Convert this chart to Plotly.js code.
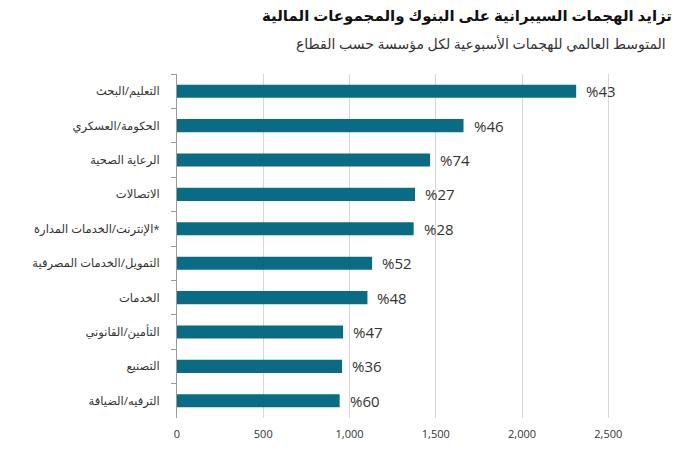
<!DOCTYPE html>
<html>
<head>
<meta charset="utf-8">
<script src="https://cdn.plot.ly/plotly-3.0.1.min.js"></script>
<style>
  body { margin: 0; background: #fff; }
  #chart { width: 700px; height: 450px; }
</style>
</head>
<body>
<div id="chart"></div>
<script>
// sectors, top to bottom
const sectors = [
    'التعليم/البحث',
    'الحكومة/العسكري',
    'الرعاية الصحية',
    'الاتصالات',
    'الإنترنت/الخدمات المدارة*',
    'التمويل/الخدمات المصرفية',
    'الخدمات',
    'التأمين/القانوني',
    'التصنيع',
    'الترفيه/الضيافة'
];
// average weekly attacks per organisation
const attacks = [2314, 1661, 1467, 1380, 1372, 1131, 1104, 963, 957, 943];
// year-on-year change labels
const changes = ['%43', '%46', '%74', '%27', '%28', '%52', '%48', '%47', '%36', '%60'];

const xTicks = [0, 500, 1000, 1500, 2000, 2500];
const xTickText = ['0', '500', '1,000', '1,500', '2,000', '2,500'];

const fontFamily = '"Open Sans", "DejaVu Sans", sans-serif';

const trace = {
    type: 'bar',
    orientation: 'h',
    x: attacks,
    y: sectors,
    marker: { color: '#0a6b85' },
    hoverinfo: 'none'
};

// percent labels just right of each bar
const labels = sectors.map((s, i) => ({
    x: attacks[i],
    y: s,
    xref: 'x',
    yref: 'y',
    text: changes[i],
    showarrow: false,
    xanchor: 'left',
    yanchor: 'middle',
    xshift: 8,
    font: { family: fontFamily, size: 15, color: '#333333' }
}));

// subtitle, right aligned under the title
labels.push({
    xref: 'paper',
    yref: 'paper',
    x: 1.017,
    y: 1.09,
    xanchor: 'right',
    yanchor: 'middle',
    text: 'المتوسط العالمي للهجمات الأسبوعية لكل مؤسسة حسب القطاع',
    showarrow: false,
    font: { family: fontFamily, size: 14, color: '#333333' }
});

const layout = {
    width: 700,
    height: 450,
    margin: { l: 177, r: 40, t: 74, b: 32 },
    paper_bgcolor: '#ffffff',
    plot_bgcolor: '#ffffff',
    showlegend: false,
    bargap: 0.62,
    title: {
        text: '<b>تزايد الهجمات السيبرانية على البنوك والمجموعات المالية</b>',
        xref: 'container',
        yref: 'container',
        x: 0.96,
        xanchor: 'right',
        y: 1 - 16 / 450,
        yanchor: 'middle',
        font: { family: fontFamily, size: 15, color: '#111111' }
    },
    xaxis: {
        range: [0, 2800],
        tickvals: xTicks,
        ticktext: xTickText,
        showgrid: true,
        gridcolor: '#d6d6d6',
        gridwidth: 1,
        zeroline: false,
        showline: false,
        ticks: '',
        ticklabelstandoff: 8,
        tickfont: { family: fontFamily, size: 11, color: '#333333' },
        fixedrange: true
    },
    yaxis: {
        autorange: 'reversed',
        showgrid: false,
        showline: true,
        linecolor: '#9a9a9a',
        linewidth: 1,
        ticks: 'outside',
        tickson: 'boundaries',
        ticklen: 5,
        tickcolor: '#9a9a9a',
        ticklabelstandoff: 14,
        tickfont: { family: fontFamily, size: 11.5, color: '#333333' },
        fixedrange: true
    },
    annotations: labels
};

Plotly.newPlot('chart', [trace], layout, { displayModeBar: false, staticPlot: true });
</script>
</body>
</html>
